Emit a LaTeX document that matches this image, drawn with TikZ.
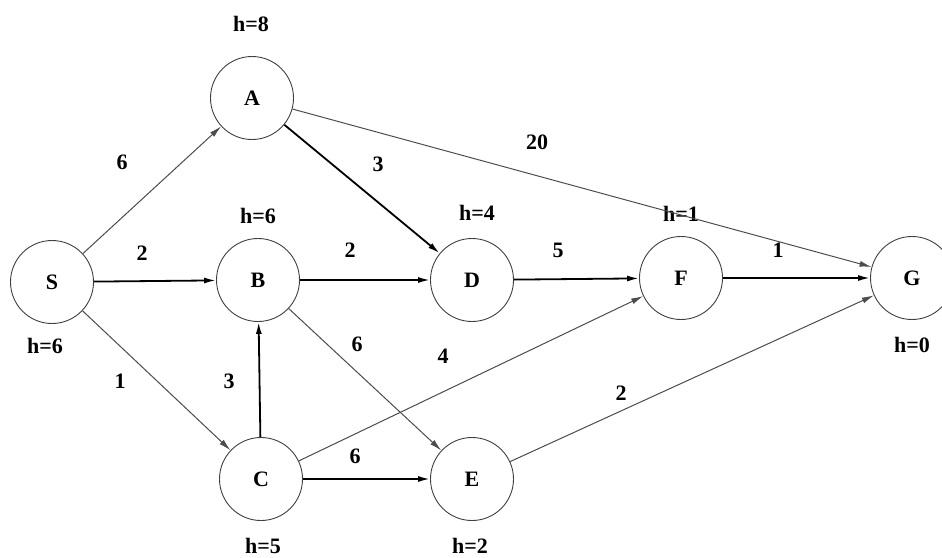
\documentclass[tikz,border=0pt]{standalone}
\usepackage{fontspec}
\setmainfont{Liberation Serif}
\usetikzlibrary{arrows.meta}
\begin{document}
\begin{tikzpicture}[x=1pt,y=-1pt,
  vtx/.style={circle,draw=black!75,line width=0.9pt,minimum size=83pt,inner sep=0pt,font=\fontsize{22}{22}\selectfont\bfseries},
  lbl/.style={font=\fontsize{22}{22}\selectfont\bfseries,inner sep=1pt},
  thin/.style={draw=black!70,line width=1pt,-{Latex[length=12pt,width=6pt]}},
  thick/.style={draw=black,line width=1.8pt,-{Latex[length=12pt,width=6pt]}}]
\fill[white] (0,0) rectangle (942,557);
\useasboundingbox (0,0) rectangle (942,557);
\node[vtx] (S) at (52,282) {S};
\node[vtx] (A) at (252,98) {A};
\node[vtx] (B) at (258,280) {B};
\node[vtx] (C) at (261,479) {C};
\node[vtx] (D) at (472,280) {D};
\node[vtx] (E) at (472,479) {E};
\node[vtx] (F) at (681,278) {F};
\node[vtx] (G) at (912,278) {G};
% heuristic labels
\node[lbl] (hA) at (251,24) {h=8};
\node[lbl] (hB) at (258,216) {h=6};
\node[lbl] (hD) at (477,213) {h=4};
\node[lbl] (hF) at (681,214) {h=1};
\node[lbl] (hS) at (45,346) {h=6};
\node[lbl] (hG) at (912,345) {h=0};
\node[lbl] (hC) at (263,546) {h=5};
\node[lbl] (hE) at (470,546) {h=2};
% edges
\draw[thin] (S) -- (A);
\draw[thick] (S) -- (B);
\draw[thin] (S) -- (C);
\draw[thick] (A) -- (D);
\draw[thin] (A) -- (G);
\draw[thick] (B) -- (D);
\draw[thin] (B) -- (E);
\draw[thick] (C) -- (B);
\draw[thick] (C) -- (E);
\draw[thin] (C) -- (F);
\draw[thick] (D) -- (F);
\draw[thick] (F) -- (G);
\draw[thin] (E) -- (G);
% weights
\node[lbl] (w1) at (122,162) {6};
\node[lbl] (w2) at (378,164) {3};
\node[lbl] (w3) at (537,142) {20};
\node[lbl] (w4) at (142,253) {2};
\node[lbl] (w5) at (350,250) {2};
\node[lbl] (w6) at (558,250) {5};
\node[lbl] (w7) at (778,250) {1};
\node[lbl] (w8) at (120,381) {1};
\node[lbl] (w9) at (229,381) {3};
\node[lbl] (w10) at (357,344) {6};
\node[lbl] (w11) at (443,356) {4};
\node[lbl] (w12) at (355,456) {6};
\node[lbl] (w13) at (621,393) {2};
\end{tikzpicture}
\end{document}
